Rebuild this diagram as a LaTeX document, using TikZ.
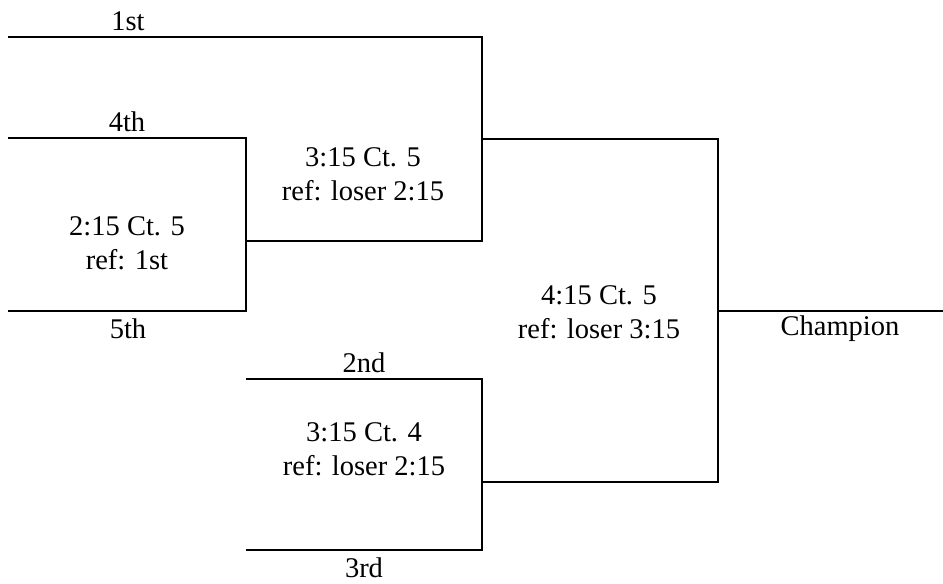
\documentclass[tikz,border=0pt]{standalone}
\usepackage{fontspec}
\setmainfont{Liberation Serif}
\begin{document}
\begin{tikzpicture}[x=1pt,y=-1pt,line width=2pt,
  lbl/.style={font=\fontsize{28.5}{33}\selectfont,anchor=base,inner sep=0pt}]
\useasboundingbox (0,0) rectangle (943,584);
% seeds
\coordinate (s1) at (8,36.7);
\coordinate (s4) at (8,138);
\coordinate (s5) at (8,310.7);
\coordinate (s2) at (246,379);
\coordinate (s3) at (246,550);
% match corners
\coordinate (m1a) at (246,138);
\coordinate (m1b) at (246,310.7);
\coordinate (m1o) at (246,241);
\coordinate (m2a) at (482,36.7);
\coordinate (m2b) at (482,241);
\coordinate (m2o) at (482,139);
\coordinate (m3a) at (482,379);
\coordinate (m3b) at (482,550);
\coordinate (m3o) at (482,482);
\coordinate (fa) at (718,139);
\coordinate (fb) at (718,482);
\coordinate (fo) at (718,311);
\coordinate (ch) at (943,311);
% bracket lines
\draw (s1) -- (m2a) -- (m2b) -- (m1o);
\draw (s4) -- (m1a) -- (m1b) -- (s5);
\draw (m2o) -- (fa) -- (fb) -- (m3o);
\draw (s2) -- (m3a) -- (m3b) -- (s3);
\draw (fo) -- (ch);
% labels
\node[lbl] (t1st) at (128,30) {1st};
\node[lbl] (t4th) at (127,131.7) {4th};
\node[lbl] (t5th) at (128,338) {5th};
\node[lbl] (t2nd) at (364,372.5) {2nd};
\node[lbl] (t3rd) at (364,577) {3rd};
\node[lbl] (ma1) at (127,235) {2:15 Ct. 5};
\node[lbl] (mb1) at (127,269) {ref: 1st};
\node[lbl] (ma2) at (363,166.7) {3:15 Ct. 5};
\node[lbl] (mb2) at (363,200.5) {ref: loser 2:15};
\node[lbl] (ma3) at (364,441.7) {3:15 Ct. 4};
\node[lbl] (mb3) at (364,475.5) {ref: loser 2:15};
\node[lbl] (ma4) at (599,304) {4:15 Ct. 5};
\node[lbl] (mb4) at (599,338) {ref: loser 3:15};
\node[lbl] (tch) at (840,335) {Champion};
\end{tikzpicture}
\end{document}
